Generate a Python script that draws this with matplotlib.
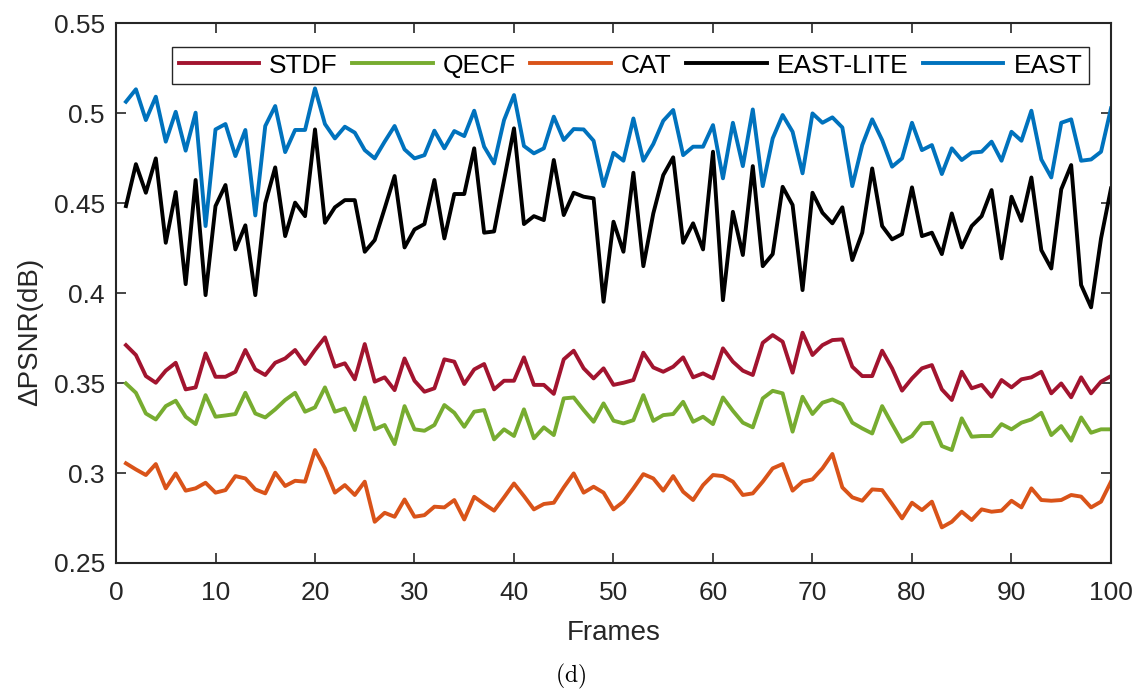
import numpy as np
import matplotlib
matplotlib.use("Agg")
import matplotlib.pyplot as plt
from matplotlib.ticker import FuncFormatter

plt.rcParams['font.family'] = ['Liberation Sans', 'DejaVu Sans']
plt.rcParams['mathtext.fontset'] = 'cm'

frames = np.arange(1, 101)

stdf = [0.3711, 0.3656, 0.3539, 0.3502, 0.3569, 0.3613, 0.3465, 0.3476, 0.3665, 0.3535,
        0.3535, 0.3563, 0.3684, 0.3576, 0.3545, 0.3613, 0.3637, 0.3684, 0.3606, 0.3684,
        0.3754, 0.3591, 0.3610, 0.3521, 0.3717, 0.3508, 0.3532, 0.3461, 0.3637, 0.3513,
        0.3452, 0.3471, 0.3632, 0.3619, 0.3495, 0.3576, 0.3606, 0.3465, 0.3513, 0.3513,
        0.3643, 0.3490, 0.3490, 0.3440, 0.3632, 0.3680, 0.3582, 0.3526, 0.3582, 0.3490,
        0.3502, 0.3517, 0.3669, 0.3587, 0.3563, 0.3591, 0.3643, 0.3532, 0.3554, 0.3526,
        0.3693, 0.3619, 0.3569, 0.3545, 0.3724, 0.3767, 0.3730, 0.3558, 0.3780, 0.3656,
        0.3711, 0.3739, 0.3743, 0.3591, 0.3539, 0.3539, 0.3680, 0.3582, 0.3458, 0.3526,
        0.3582, 0.3600, 0.3465, 0.3406, 0.3563, 0.3471, 0.3490, 0.3424, 0.3517, 0.3476,
        0.3521, 0.3532, 0.3563, 0.3443, 0.3498, 0.3421, 0.3532, 0.3443, 0.3508, 0.3539]

qecf = [0.3498, 0.3446, 0.3331, 0.3298, 0.3372, 0.3402, 0.3313, 0.3272, 0.3433, 0.3313,
        0.3320, 0.3328, 0.3446, 0.3331, 0.3309, 0.3354, 0.3406, 0.3446, 0.3341, 0.3365,
        0.3476, 0.3341, 0.3359, 0.3239, 0.3420, 0.3243, 0.3267, 0.3161, 0.3372, 0.3243,
        0.3235, 0.3267, 0.3378, 0.3335, 0.3257, 0.3341, 0.3350, 0.3187, 0.3243, 0.3206,
        0.3354, 0.3193, 0.3254, 0.3211, 0.3415, 0.3420, 0.3350, 0.3285, 0.3387, 0.3291,
        0.3276, 0.3294, 0.3433, 0.3290, 0.3322, 0.3328, 0.3396, 0.3285, 0.3313, 0.3272,
        0.3420, 0.3346, 0.3280, 0.3254, 0.3415, 0.3457, 0.3443, 0.3230, 0.3424, 0.3328,
        0.3391, 0.3409, 0.3383, 0.3280, 0.3248, 0.3220, 0.3372, 0.3272, 0.3174, 0.3206,
        0.3276, 0.3280, 0.3150, 0.3128, 0.3304, 0.3202, 0.3206, 0.3206, 0.3272, 0.3243,
        0.3280, 0.3298, 0.3335, 0.3211, 0.3261, 0.3180, 0.3309, 0.3224, 0.3243, 0.3243]

cat = [0.3054, 0.3020, 0.2989, 0.3050, 0.2915, 0.2998, 0.2902, 0.2915, 0.2946, 0.2891,
       0.2905, 0.2983, 0.2970, 0.2909, 0.2887, 0.3002, 0.2928, 0.2957, 0.2952, 0.3128,
       0.3026, 0.2891, 0.2933, 0.2878, 0.2952, 0.2729, 0.2779, 0.2757, 0.2853, 0.2757,
       0.2766, 0.2813, 0.2809, 0.2850, 0.2742, 0.2868, 0.2828, 0.2791, 0.2865, 0.2942,
       0.2872, 0.2798, 0.2828, 0.2835, 0.2920, 0.2998, 0.2891, 0.2924, 0.2891, 0.2798,
       0.2841, 0.2915, 0.2994, 0.2970, 0.2902, 0.2983, 0.2896, 0.2850, 0.2933, 0.2989,
       0.2983, 0.2952, 0.2878, 0.2887, 0.2952, 0.3026, 0.3050, 0.2902, 0.2952, 0.2965,
       0.3026, 0.3106, 0.2920, 0.2865, 0.2846, 0.2909, 0.2905, 0.2828, 0.2748, 0.2835,
       0.2794, 0.2841, 0.2698, 0.2729, 0.2785, 0.2739, 0.2798, 0.2785, 0.2791, 0.2846,
       0.2809, 0.2915, 0.2850, 0.2846, 0.2850, 0.2878, 0.2869, 0.2809, 0.2841, 0.2952]

east_lite = [0.4484, 0.4717, 0.4558, 0.4749, 0.4280, 0.4562, 0.4050, 0.4629, 0.3989, 0.4484,
             0.4601, 0.4243, 0.4377, 0.3989, 0.4499, 0.4699, 0.4317, 0.4503, 0.4428, 0.4910,
             0.4391, 0.4477, 0.4517, 0.4517, 0.4230, 0.4295, 0.4471, 0.4651, 0.4254, 0.4354,
             0.4384, 0.4629, 0.4304, 0.4551, 0.4551, 0.4805, 0.4336, 0.4343, 0.4629, 0.4916,
             0.4384, 0.4428, 0.4406, 0.4740, 0.4434, 0.4558, 0.4536, 0.4527, 0.3952, 0.4397,
             0.4230, 0.4669, 0.4150, 0.4443, 0.4656, 0.4755, 0.4280, 0.4388, 0.4243, 0.4786,
             0.3961, 0.4452, 0.4212, 0.4706, 0.4150, 0.4217, 0.4591, 0.4490, 0.4017, 0.4558,
             0.4447, 0.4388, 0.4477, 0.4184, 0.4336, 0.4693, 0.4373, 0.4299, 0.4328, 0.4588,
             0.4317, 0.4336, 0.4217, 0.4443, 0.4254, 0.4373, 0.4428, 0.4573, 0.4193, 0.4536,
             0.4402, 0.4643, 0.4239, 0.4137, 0.4577, 0.4712, 0.4045, 0.3921, 0.4304, 0.4582]

east = [0.5064, 0.5133, 0.4962, 0.5092, 0.4842, 0.5008, 0.4792, 0.5003, 0.4373, 0.4910,
        0.4940, 0.4762, 0.4907, 0.4432, 0.4929, 0.5040, 0.4784, 0.4907, 0.4907, 0.5138,
        0.4940, 0.4860, 0.4925, 0.4892, 0.4795, 0.4749, 0.4842, 0.4929, 0.4799, 0.4749,
        0.4767, 0.4903, 0.4805, 0.4901, 0.4873, 0.5014, 0.4814, 0.4721, 0.4962, 0.5101,
        0.4818, 0.4777, 0.4805, 0.4981, 0.4851, 0.4912, 0.4910, 0.4847, 0.4595, 0.4780,
        0.4736, 0.4971, 0.4736, 0.4829, 0.4958, 0.5018, 0.4767, 0.4814, 0.4814, 0.4934,
        0.4638, 0.4947, 0.4706, 0.5021, 0.4595, 0.4860, 0.4990, 0.4897, 0.4666, 0.4999,
        0.4947, 0.4977, 0.4921, 0.4595, 0.4823, 0.4966, 0.4851, 0.4703, 0.4749, 0.4947,
        0.4795, 0.4823, 0.4662, 0.4805, 0.4740, 0.4781, 0.4786, 0.4842, 0.4736, 0.4897,
        0.4847, 0.5014, 0.4743, 0.4643, 0.4947, 0.4966, 0.4736, 0.4743, 0.4786, 0.5027]

labels = ["STDF", "QECF", "CAT", "EAST-LITE", "EAST"]
series = [stdf, qecf, cat, east_lite, east]
colors = ["#A2142F", "#77AC30", "#D95319", "#000000", "#0072BD"]

fig = plt.figure(figsize=(11.34, 6.93), dpi=100)
ax = fig.add_axes([0.1023, 0.1876, 0.8774, 0.7788])

for y, lab, c in zip(series, labels, colors):
    ax.plot(frames, y, color=c, lw=2.8, label=lab)

ax.set_xlim(0, 100)
ax.set_ylim(0.25, 0.55)
ax.set_xticks(np.arange(0, 101, 10))
ax.set_yticks(np.arange(0.25, 0.551, 0.05))
ax.yaxis.set_major_formatter(FuncFormatter(lambda v, p: "%g" % round(v, 2)))

edge = "#262626"
for s in ax.spines.values():
    s.set_linewidth(1.5)
    s.set_color(edge)
ax.tick_params(direction="in", length=7, width=1.2, top=True, right=True,
               labelsize=19, colors=edge)
ax.tick_params(axis="x", pad=13)
ax.tick_params(axis="y", pad=8)

ax.set_xlabel("Frames", fontsize=20, color=edge, labelpad=11)
ax.set_ylabel("ΔPSNR(dB)", fontsize=20, color=edge)
ax.yaxis.set_label_coords(-0.073, 0.428)

leg = ax.legend(loc="upper left", bbox_to_anchor=(0.0563, 0.956), ncol=5,
                fontsize=19, handlelength=3.05, handletextpad=0.38, columnspacing=0.55,
                fancybox=False, edgecolor=edge, framealpha=1, borderaxespad=0,
                borderpad=0.25)
leg.get_frame().set_linewidth(1.0)

fig.text(0.503, 0.024, r"$\mathrm{(d)}$", ha="center", va="center", fontsize=17)

fig.savefig("out.png", dpi=100)
